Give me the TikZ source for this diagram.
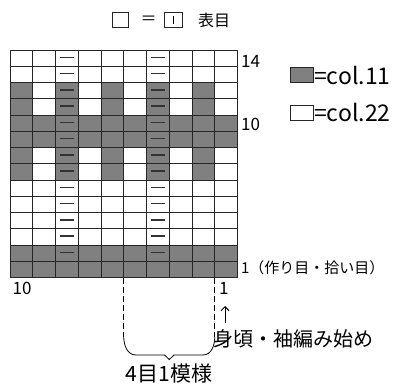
\documentclass[tikz,border=0pt]{standalone}
\usepackage{xcolor}
\usepackage{fontspec}
\usepackage{tikz}
\usetikzlibrary{arrows.meta}
\newfontfamily\jpfont{Noto Sans CJK JP}
\definecolor{stgray}{RGB}{128,128,128}
\tikzset{
  cell/.style={draw=black!85, line width=0.8pt},
  purl/.style={line width=1.4pt, black!80},
  lbl/.style={font=\jpfont\fontsize{17}{20}\selectfont, inner sep=0pt},
  keytxt/.style={font=\jpfont\fontsize{23}{26}\selectfont, inner sep=0pt},
  toptxt/.style={font=\jpfont\fontsize{16}{19}\selectfont, inner sep=0pt},
  bigtxt/.style={font=\jpfont\fontsize{20}{24}\selectfont, inner sep=0pt},
  keybox/.style={draw=black!85, line width=0.8pt, inner sep=0pt}
}
\begin{document}
\begin{tikzpicture}[x=1pt, y=-1pt]
    \useasboundingbox (0,0) rectangle (394,385);
    \begin{scope}[shift={(10,50)}, x=22.75pt, y=-16.25pt]
    \fill[stgray] (0,4) rectangle (10,6);
    \fill[stgray] (0,12) rectangle (10,14);
    \foreach \r in {2,6}
        \foreach \c in {0,2,4,6,8}
            \fill[stgray] (\c,\r) rectangle (\c+1,\r+2);
    \foreach \c in {0,...,10}
        \draw[cell] (\c,0) -- (\c,14);
    \foreach \r in {0,...,14}
        \draw[cell] (0,\r) -- (10,\r);
    \foreach \r in {0,...,12}
        \foreach \c in {2,6}
            \draw[purl] (\c+0.19,\r+0.45) -- (\c+0.81,\r+0.45);
    \coordinate (p5) at (5,14);
    \coordinate (p9) at (9,14);
    \node[lbl, anchor=west] (r14) at (10.15,0.68) {14};
    \node[lbl, anchor=west] (r10) at (10.15,4.6) {10};
    \node[lbl, anchor=west, font=\jpfont\fontsize{15}{18}\selectfont] (r1) at (10.15,13.4) {1（作り目・拾い目）};
    \node[lbl] (c10) at (0.53,14.7) {10};
    \node[lbl] (one) at (9.4,14.7) {1};
    \end{scope}

    \node[keybox, minimum width=16pt, minimum height=15pt] (knit) at (120,20) {};
    \node[toptxt] (eq) at (148.5,20) {＝};
    \node[keybox, minimum width=18pt, minimum height=15pt] (knitsym) at (173,20) {};
    \draw[line width=0.8pt] (knitsym.center) ++(0,-4) -- ++(0,8);
    \node[toptxt] (omote) at (214,20) {表目};

    \node[keybox, fill=stgray, minimum width=23pt, minimum height=15pt] (c11) at (301.5,75) {};
    \node[keytxt, anchor=west] (t11) at (314,75) {=col.11};
    \node[keybox, minimum width=23pt, minimum height=15pt] (c22) at (301.5,112.5) {};
    \node[keytxt, anchor=west] (t22) at (314,112.5) {=col.22};

    \coordinate (d5) at (123.75,337);
    \coordinate (d9) at (214.75,337);
    \draw[line width=0.8pt, dash pattern=on 6pt off 3pt] (p5) -- (d5);
    \draw[line width=0.8pt, dash pattern=on 6pt off 3pt] (p9) -- (d9);
    \draw[line width=0.8pt] (d5) to[out=-90, in=180] (136,355) -- (164.5,355)
        -- (169.25,359.5) -- (174,355) -- (203,355) to[out=0, in=-90] (d9);
    \node[bigtxt, font=\jpfont\fontsize{21}{24}\selectfont] (rep) at (169,374) {4目1模様};

    \node[bigtxt, anchor=west] (start) at (213,339) {身頃・袖編み始め};
    \draw[line width=1pt, -{Straight Barb[length=4pt, width=8pt]}] (225,323) -- (225,306);
\end{tikzpicture}
\end{document}
